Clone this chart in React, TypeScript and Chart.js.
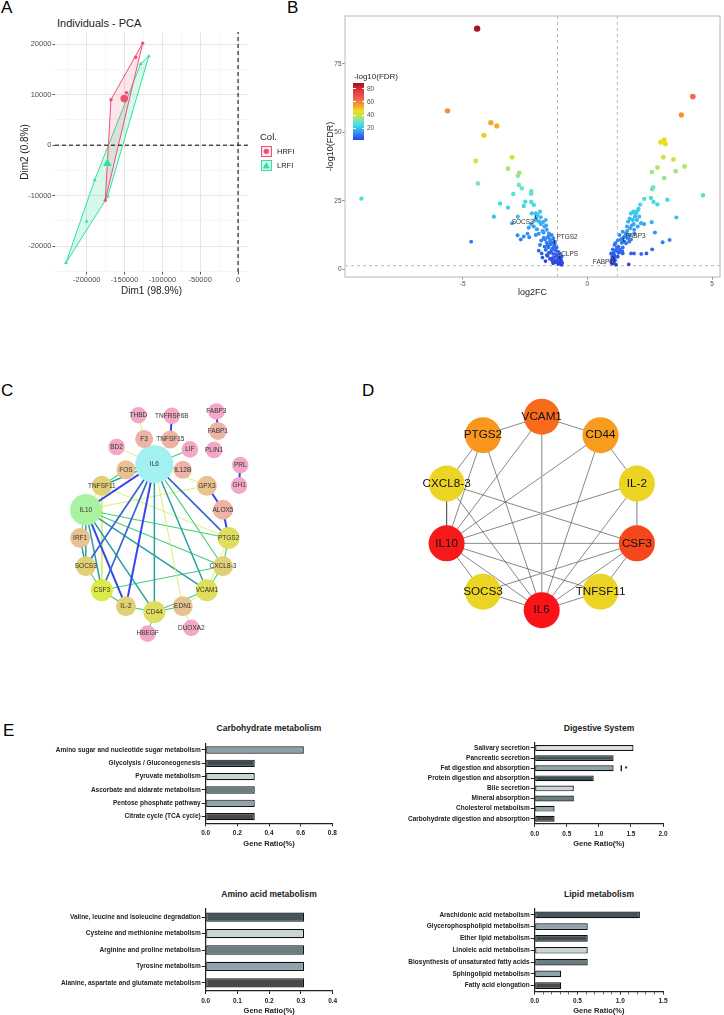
import React, { useEffect, useRef } from "react";
import { Chart, registerables } from "chart.js";
Chart.register(...registerables);

const FONT = "'Liberation Sans', Arial, Helvetica, sans-serif";
Chart.defaults.font.family = FONT;

// ---------------- Panel A : PCA ----------------
const HRFI_DIM1 = [-126000, -135300, -168000, -147500, -175500];
const HRFI_DIM2 = [20200, 17400, 9000, 10400, -10900];
const LRFI_DIM1 = [-118000, -128700, -189600, -200200, -227500, -172400];
const LRFI_DIM2 = [17600, 16100, -6900, -15100, -23300, -10200];
const PCA_DIM1_RANGE = [-242000, 13200];
const PCA_DIM2_RANGE = [-25100, 22400];
const PCA_DIM1_TICKS = [-200000, -150000, -100000, -50000, 0];
const PCA_DIM2_TICKS = [-20000, -10000, 0, 10000, 20000];
const PCA_GROUPS = ["HRFI", "LRFI"];

// ---------------- Panel B : volcano ----------------
const VOLCANO_LOG2FC = [
  -4.42, -5.61, -3.87, -3.63, -4.15, -4.48, -4.39, -9.06, -3.02, -3.18, -2.73, -2.79, -2.75, -2.63, -2.25, -2.25,
  -2.97, -3.5, -3.18, -2.49, -2.55, -2.25, -2.15, -3.75, -2.79, -3.02, -4.66, -2.8, -2.67, -2.33,
  -2.23, -2.07, -1.87, -2.06, -1.67, -1.94, -2.15, -1.86, -1.72, -2.02, -1.63, -1.54, -1.76, -1.43, -1.59, -2.07,
  -1.7, -1.5, -1.37, -1.3, -1.63, -1.46, -1.33, -1.56, -1.23, -1.41, -1.67, -1.27, -1.17, -1.5, -1.37, -1.1,
  -1.59, -1.23, -1.03, -1.43, -1.19, -1.3, -1.1, -1.01, -1.37, -1.17, -1.03, -1.63, -1.72, -1.9, -1.83,
  -1.8, -1.95, -1.55, -1.48, -1.4, -1.52, -1.6, -1.38, -1.3, -1.45, -1.55, -1.25, -1.34, -1.5, -1.15, -1.22,
  -1.12, -1.28, -1.4, -1.75, -1.85, -2.25, -2.35, -2.1, -1.9, -2.0, -1.78, -1.65, -2.4, -2.55, -1.95, -1.8,
  -1.68, -1.05, -2.05, -1.31, -1.09,
  4.23, 3.77, 2.94, 3.08, 3.13, 3.05, 3.45, 3.9, 2.81, 2.59, 3.54, 3.08, 2.64, 2.6, 4.64, 2.55, 2.28, 2.65,
  2.81, 3.21, 2.12, 2.01, 3.57, 2.58, 2.28, 2.17, 2.71, 3.3, 3.02, 2.6, 2.37, 2.16, 1.87, 1.66,
  1.75, 1.91, 1.82, 1.64, 1.99, 1.86, 1.59, 1.72, 1.88, 1.42, 1.55, 1.68, 1.29, 1.46, 1.62, 1.75, 1.22, 1.38,
  1.55, 1.09, 1.25, 1.42, 1.02, 1.15, 1.33, 0.95, 1.09, 1.22, 1.02, 1.11, 0.95, 1.06, 1.15, 2.02, 2.15, 2.08,
  1.95, 1.88, 1.68, 1.75, 1.42,
  1.0, 0.98, 1.05, 1.18, 1.3, 1.12, 1.35, 1.5, 1.48, 1.6, 1.78, 1.7, 1.85, 2.05, 1.25, 0.99, 1.08, 1.4,
  1.47, 1.09,
];
const VOLCANO_NEGLOG10FDR = [
  87.8, 57.8, 53.5, 52.3, 48.9, 39.5, 31.3, 25.8, 40.9, 36.7, 35.2, 34.1, 30.8, 29.6, 28.5, 27.6,
  27.5, 24.0, 22.5, 24.7, 23.1, 24.6, 23.5, 19.2, 19.2, 16.8, 10.1, 12.4, 10.9, 11.7,
  20.4, 20.4, 19.0, 18.6, 18.0, 17.4, 15.6, 16.5, 15.6, 14.6, 14.4, 13.1, 13.4, 12.5, 11.7, 12.5,
  10.9, 10.7, 11.3, 10.1, 9.7, 9.2, 8.5, 8.0, 8.0, 7.3, 7.1, 6.8, 6.4, 6.1, 5.6, 5.8,
  4.9, 4.9, 4.6, 4.0, 3.6, 3.2, 2.8, 2.4, 2.2, 1.9, 1.6, 5.2, 8.3, 8.9, 5.8,
  14.0, 13.0, 12.0, 10.0, 9.8, 9.0, 8.6, 7.8, 7.4, 6.6, 6.0, 5.4, 4.4, 3.8, 4.2, 3.0,
  2.0, 2.6, 3.0, 11.5, 10.5, 16.5, 15.2, 17.8, 21.0, 19.8, 17.2, 16.0, 13.0, 12.0, 6.8, 4.3,
  3.0, 3.3, 18.2, 9.2, 3.6,
  63.0, 56.3, 46.4, 47.2, 45.7, 40.9, 40.1, 37.5, 37.1, 35.5, 35.8, 33.3, 29.9, 29.2, 27.0, 26.0, 25.7, 24.6,
  23.7, 25.4, 23.6, 21.4, 18.9, 17.2, 16.5, 16.8, 13.4, 10.7, 9.9, 7.3, 5.8, 5.6, 5.8, 1.8,
  20.4, 19.2, 18.0, 17.4, 18.0, 16.5, 15.6, 15.0, 14.4, 13.7, 13.1, 12.5, 12.5, 11.7, 11.3, 10.9, 10.5, 9.7,
  9.5, 8.9, 8.3, 8.0, 7.3, 6.8, 6.4, 5.8, 5.2, 4.6, 4.0, 3.4, 2.8, 2.2, 1.6, 15.6, 16.8, 19.2,
  20.4, 13.1, 10.1, 5.8, 5.8,
  4.8, 3.6, 6.0, 7.8, 7.2, 9.5, 11.0, 12.0, 10.2, 14.0, 16.0, 18.5, 21.0, 22.0, 6.0, 2.0, 4.4, 6.6,
  10.1, 3.0,
];
const VOLCANO_X_RANGE = [-9.72, 5.32];
const VOLCANO_Y_RANGE = [-2.8, 92.4];
const FC_CUTOFF = 1.2;
const FDR_CUTOFF = 1.3;
const VOLCANO_LABELS = ["SOCS3", "PTGS2", "CLPS", "FABP3", "FABP1"];
const VOLCANO_LABEL_X = [-2.05, -1.31, -1.09, 1.47, 1.09];
const VOLCANO_LABEL_Y = [18.2, 9.2, 3.6, 10.1, 3.0];
const COLORBAR_VALUES = [1.5, 8, 16, 24, 32, 40, 47, 52, 58, 65, 75, 89];
const COLORBAR_COLORS = ["#2B3FE0", "#2F6EF0", "#38A8F2", "#40DCE6", "#80E4B0", "#CFE33C", "#EEDC22", "#F2B02A", "#F28A3C", "#F0604E", "#E0404A", "#A50F15"];
const COLORBAR_TICKS = [20, 40, 60, 80];

// ---------------- Panel C : PPI network ----------------
const RING_GENES = ["IL6", "IL12B", "GPX3", "ALOX5", "PTGS2", "CXCL8-3", "VCAM1", "EDN1", "CD44", "IL-2", "CSF3", "SOCS3", "IRF1", "IL10", "TNFSF11", "FOS"];
const OUTER_GENES = ["F3", "TNFSF15", "THBD", "TNFRSF6B", "BD2", "LIF", "FABP3", "FABP1", "PLIN1", "PRL", "GH1", "HBEGF", "DUOXA2"];
const OUTER_DX = [-11.7, 18.3, -18.3, 20, -43.3, 40.7, 71, 72.7, 68.3, 98.3, 97, -7.7, 42.3];
const OUTER_DY = [-114, -113.3, -141.3, -140.7, -104.7, -102, -145.7, -123.3, -101.3, -84, -60.3, 110, 103.3];
const NODE_GROUP: Record<string, string> = {
  THBD: "pink", TNFRSF6B: "pink", FABP3: "pink", BD2: "pink", LIF: "pink", PLIN1: "pink", PRL: "pink", GH1: "pink", HBEGF: "pink", DUOXA2: "pink",
  F3: "salmon", TNFSF15: "salmon", FABP1: "salmon", IL12B: "salmon", ALOX5: "salmon",
  FOS: "tan", GPX3: "tan", IRF1: "tan", EDN1: "tan",
  TNFSF11: "khaki", SOCS3: "khaki", "IL-2": "khaki", "CXCL8-3": "khaki",
  PTGS2: "yellow", CD44: "yellow", VCAM1: "yellow",
  CSF3: "lime", IL10: "green", IL6: "cyan",
};
const GROUP_COLOR: Record<string, string> = {
  pink: "#F3A8C8", salmon: "#EDB3A4", tan: "#E8C290", khaki: "#E2D074", yellow: "#E0DE5E", lime: "#DCEB48", green: "#A9F2A2", cyan: "#A3F0F2",
};
const NODE_SIZE: Record<string, number> = {
  IL6: 19, IL10: 15.7, PTGS2: 11, CSF3: 11, CD44: 11, VCAM1: 11, IL12B: 9, FOS: 9.5, F3: 9, TNFSF15: 9, FABP1: 9,
};
const PPI_EDGES = [
  "THBD|F3|1", "TNFRSF6B|TNFSF15|4", "FABP3|FABP1|4", "FABP1|PLIN1|1", "PRL|GH1|4", "GPX3|ALOX5|4", "ALOX5|PTGS2|4",
  "F3|IL6|2", "TNFSF15|IL6|1", "BD2|IL6|1", "LIF|IL6|2", "IL12B|IL6|2",
  "IL6|FOS|3", "IL6|TNFSF11|3", "IL6|IL10|4", "IL6|SOCS3|5", "IL6|CSF3|5", "IL6|IL-2|4", "IL6|CD44|3", "IL6|EDN1|1",
  "IL6|VCAM1|3", "IL6|CXCL8-3|2", "IL6|PTGS2|5", "IL6|GPX3|1",
  "IL10|FOS|1", "IL10|TNFSF11|1", "IL10|IRF1|2", "IL10|SOCS3|3", "IL10|CSF3|3", "IL10|IL-2|4", "IL10|CD44|3",
  "IL10|VCAM1|3", "IL10|CXCL8-3|2", "IL10|PTGS2|2", "IL10|GPX3|1",
  "TNFSF11|FOS|2", "TNFSF11|CSF3|1", "TNFSF11|PTGS2|1",
  "IRF1|SOCS3|3", "SOCS3|CSF3|2", "CSF3|IL-2|2", "CSF3|CXCL8-3|2", "IL-2|CD44|2", "CD44|EDN1|2", "CD44|VCAM1|2",
  "CD44|HBEGF|2", "EDN1|VCAM1|1", "EDN1|DUOXA2|1", "VCAM1|CXCL8-3|2", "CXCL8-3|PTGS2|2", "VCAM1|PTGS2|1",
];
const EDGE_COLOR = ["", "#D4EE6A", "#45CC7A", "#2A9FA0", "#3446EE", "#3866CC"];
const EDGE_WIDTH = [0, 0.9, 1.1, 1.5, 2.0, 1.7];

// ---------------- Panel D : hub genes ----------------
const HUB_GENES = ["VCAM1", "CD44", "IL-2", "CSF3", "TNFSF11", "IL6", "SOCS3", "IL10", "CXCL8-3", "PTGS2"];
const HUB_COLORS = ["#F86A1C", "#F89C1E", "#ECD424", "#F5461C", "#ECD424", "#FA1419", "#ECD424", "#F61A1A", "#ECD424", "#F8961E"];
const HUB_EDGES = [
  "VCAM1|PTGS2", "VCAM1|CD44", "VCAM1|IL6|L", "VCAM1|IL10", "PTGS2|CXCL8-3", "PTGS2|IL10", "PTGS2|IL6",
  "CD44|IL-2", "CD44|IL10", "CD44|IL6", "CXCL8-3|IL10", "CXCL8-3|CSF3", "CXCL8-3|IL6", "IL-2|CSF3|L",
  "IL-2|IL10", "IL-2|IL6", "IL10|CSF3", "IL10|SOCS3", "IL10|IL6", "IL10|TNFSF11", "CSF3|TNFSF11", "CSF3|IL6",
  "CSF3|SOCS3", "SOCS3|IL6", "TNFSF11|IL6",
];

// ---------------- Panel E : KEGG bars ----------------
const CARB_TITLE = "Carbohydrate metabolism";
const CARB_PATHWAYS = ["Amino sugar and nucleotide sugar metabolism", "Glycolysis / Gluconeogenesis", "Pyruvate metabolism", "Ascorbate and aldarate metabolism", "Pentose phosphate pathway", "Citrate cycle (TCA cycle)"];
const CARB_RATIO = [0.62, 0.31, 0.31, 0.31, 0.31, 0.31];
const CARB_COLORS = ["#8B9FA8", "#3E4D54", "#CAD5D6", "#6A7D81", "#8EA3AB", "#474A4A"];

const DIGEST_TITLE = "Digestive System";
const DIGEST_PATHWAYS = ["Salivary secretion", "Pancreatic secretion", "Fat digestion and absorption", "Protein digestion and absorption", "Bile secretion", "Mineral absorption", "Cholesterol metabolism", "Carbohydrate digestion and absorption"];
const DIGEST_RATIO = [1.54, 1.23, 1.23, 0.92, 0.61, 0.61, 0.31, 0.31];
const DIGEST_COLORS = ["#D9E0E0", "#46545A", "#8EA3AB", "#3E4B51", "#CAD5D6", "#6A7D81", "#8EA3AB", "#474A4A"];
const DIGEST_MARK_PATHWAY = "Fat digestion and absorption";
const DIGEST_MARK_VALUE = 1.35;

const AMINO_TITLE = "Amino acid metabolism";
const AMINO_PATHWAYS = ["Valine, leucine and isoleucine degradation", "Cysteine and methionine metabolism", "Arginine and proline metabolism", "Tyrosine metabolism", "Alanine, aspartate and glutamate metabolism"];
const AMINO_RATIO = [0.31, 0.31, 0.31, 0.31, 0.31];
const AMINO_COLORS = ["#46555B", "#CAD5D6", "#6A7D81", "#8EA3AB", "#474A4A"];

const LIPID_TITLE = "Lipid metabolism";
const LIPID_PATHWAYS = ["Arachidonic acid metabolism", "Glycerophospholipid metabolism", "Ether lipid metabolism", "Linoleic acid metabolism", "Biosynthesis of unsaturated fatty acids", "Sphingolipid metabolism", "Fatty acid elongation"];
const LIPID_RATIO = [1.23, 0.62, 0.62, 0.62, 0.62, 0.31, 0.31];
const LIPID_COLORS = ["#46555B", "#8EA3AB", "#3E4D54", "#CAD5D6", "#6A7D81", "#8EA3AB", "#474A4A"];

// ================= helpers =================
type Pt = { x: number; y: number };

function convexHull(pts: Pt[]): Pt[] {
  const p = [...pts].sort((a, b) => a.x - b.x || a.y - b.y);
  const cross = (o: Pt, a: Pt, b: Pt) => (a.x - o.x) * (b.y - o.y) - (a.y - o.y) * (b.x - o.x);
  const lower: Pt[] = [];
  for (const q of p) {
    while (lower.length >= 2 && cross(lower[lower.length - 2], lower[lower.length - 1], q) <= 0) lower.pop();
    lower.push(q);
  }
  const upper: Pt[] = [];
  for (const q of [...p].reverse()) {
    while (upper.length >= 2 && cross(upper[upper.length - 2], upper[upper.length - 1], q) <= 0) upper.pop();
    upper.push(q);
  }
  upper.pop();
  lower.pop();
  const h = lower.concat(upper);
  return h.concat([h[0]]);
}

const mean = (a: number[]) => a.reduce((s, v) => s + v, 0) / a.length;

function hexToRgb(h: string) {
  const n = parseInt(h.slice(1), 16);
  return [(n >> 16) & 255, (n >> 8) & 255, n & 255];
}
function fdrColor(v: number): string {
  const V = COLORBAR_VALUES, C = COLORBAR_COLORS;
  if (v <= V[0]) return C[0];
  for (let i = 1; i < V.length; i++) {
    if (v <= V[i]) {
      const t = (v - V[i - 1]) / (V[i] - V[i - 1]);
      const a = hexToRgb(C[i - 1]), b = hexToRgb(C[i]);
      const c = a.map((x, k) => Math.round(x + (b[k] - x) * t));
      return `rgb(${c[0]},${c[1]},${c[2]})`;
    }
  }
  return C[C.length - 1];
}

function ChartBox({ left, top, width, height, make }: { left: number; top: number; width: number; height: number; make: () => any }) {
  const ref = useRef<HTMLCanvasElement>(null);
  useEffect(() => {
    const chart = new Chart(ref.current as HTMLCanvasElement, make());
    return () => chart.destroy();
  }, []);
  return <canvas ref={ref} width={width} height={height} style={{ position: "absolute", left, top, width, height }} />;
}

const noInteract = {
  responsive: false,
  animation: false as const,
  events: [] as any[],
};

// ================= Panel A config =================
function pcaConfig() {
  const hr = HRFI_DIM1.map((x, i) => ({ x, y: HRFI_DIM2[i] }));
  const lr = LRFI_DIM1.map((x, i) => ({ x, y: LRFI_DIM2[i] }));
  const pink = "#F04E72";
  const green = "#33DFA0";
  const tickFont = { size: 7.5 };
  const majorAxis = (range: number[], tickVals: number[], title: string, fit: (s: any) => void) => ({
    type: "linear", min: range[0], max: range[1],
    afterBuildTicks: (s: any) => { s.ticks = tickVals.map((v) => ({ value: v })); },
    ticks: { autoSkip: false, maxRotation: 0, font: tickFont, color: "#4D4D4D", padding: 1, callback: (v: any) => String(v) },
    grid: { color: "#E3E3E3", lineWidth: 0.9, tickLength: 2.5, tickColor: "#444" },
    border: { display: false },
    title: { display: true, text: title, font: { size: 10 }, color: "#222", padding: 0 },
    afterFit: fit,
  });
  const minorAxis = (range: number[], tickVals: number[], pos: string, fit: (s: any) => void) => ({
    type: "linear", position: pos, min: range[0], max: range[1],
    afterBuildTicks: (s: any) => {
      const st = tickVals[1] - tickVals[0];
      s.ticks = tickVals.slice(0, -1).map((v) => ({ value: v + st / 2 })).concat([{ value: tickVals[0] - st / 2 }]);
    },
    ticks: { display: false },
    grid: { color: "#F0F0F0", lineWidth: 0.6, drawTicks: false },
    border: { display: false },
    afterFit: fit,
  });
  return {
    type: "scatter",
    data: {
      datasets: [
        { data: [{ x: 0, y: PCA_DIM2_RANGE[0] }, { x: 0, y: PCA_DIM2_RANGE[1] }], showLine: true, borderColor: "#000", borderWidth: 1, borderDash: [4, 3], pointRadius: 0 },
        { data: [{ x: PCA_DIM1_RANGE[0], y: 0 }, { x: PCA_DIM1_RANGE[1], y: 0 }], showLine: true, borderColor: "#000", borderWidth: 1, borderDash: [4, 3], pointRadius: 0 },
        { data: [{ x: mean(HRFI_DIM1), y: mean(HRFI_DIM2) }], pointStyle: "circle", pointRadius: 3.8, backgroundColor: pink, borderWidth: 0 },
        { data: [{ x: mean(LRFI_DIM1), y: mean(LRFI_DIM2) }], pointStyle: "triangle", pointRadius: 5, backgroundColor: green, borderWidth: 0 },
        { data: hr, pointStyle: "circle", pointRadius: 1.7, backgroundColor: pink, borderWidth: 0 },
        { data: lr, pointStyle: "triangle", pointRadius: 2.2, backgroundColor: green, borderWidth: 0 },
        { data: convexHull(hr), showLine: true, fill: "shape", backgroundColor: "rgba(240,78,114,0.15)", borderColor: pink, borderWidth: 1, pointRadius: 0, tension: 0 },
        { data: convexHull(lr), showLine: true, fill: "shape", backgroundColor: "rgba(51,223,160,0.2)", borderColor: green, borderWidth: 1, pointRadius: 0, tension: 0 },
      ],
    },
    options: {
      ...noInteract,
      layout: { padding: { left: 19, top: 32, right: 52, bottom: 3 } },
      plugins: { legend: { display: false }, tooltip: { enabled: false } },
      scales: {
        xMinor: minorAxis(PCA_DIM1_RANGE, PCA_DIM1_TICKS, "bottom", (s: any) => { s.height = 0; }),
        yMinor: minorAxis(PCA_DIM2_RANGE, PCA_DIM2_TICKS, "left", (s: any) => { s.width = 0; }),
        x: majorAxis(PCA_DIM1_RANGE, PCA_DIM1_TICKS, "Dim1 (98.9%)", (s: any) => { s.height = 25; }),
        y: majorAxis(PCA_DIM2_RANGE, PCA_DIM2_TICKS, "Dim2 (0.8%)", (s: any) => { s.width = 36; }),
      },
    },
  };
}

// ================= Panel B config =================
function volcanoConfig() {
  const pts = VOLCANO_LOG2FC.map((x, i) => ({ x, y: VOLCANO_NEGLOG10FDR[i] }));
  const order = pts.map((_, i) => i).sort((a, b) => pts[a].y - pts[b].y);
  const sorted = order.map((i) => pts[i]);
  const dash = { showLine: true, borderColor: "#A8A8A8", borderWidth: 0.8, borderDash: [3, 3], pointRadius: 0 };
  const labelStyle = [
    { sx: -1, sy: -4.3, tx: -2.5, ty: 2.7, align: "right" },
    { sx: -1, sy: -4.7, tx: 1.7, ty: -6.7, align: "left" },
    { sx: -1.3, sy: -5.3, tx: 1, ty: -5.3, align: "left" },
    { sx: -1.3, sy: -4.4, tx: 1.4, ty: -5.7, align: "left" },
    { sx: -1.7, sy: -5, tx: -1.5, ty: 1.3, align: "right" },
  ];
  const labels = {
    id: "volcanoLabels",
    afterDatasetsDraw(chart: any) {
      const { ctx, scales } = chart;
      ctx.save();
      VOLCANO_LABELS.forEach((name, i) => {
        const px = scales.x.getPixelForValue(VOLCANO_LABEL_X[i]);
        const py = scales.y.getPixelForValue(VOLCANO_LABEL_Y[i]);
        const o = labelStyle[i];
        ctx.strokeStyle = "#111";
        ctx.lineWidth = 0.8;
        ctx.beginPath();
        ctx.moveTo(px, py);
        ctx.lineTo(px + o.sx, py + o.sy);
        ctx.stroke();
        ctx.fillStyle = "#333";
        ctx.font = `6.5px ${FONT}`;
        ctx.textAlign = o.align;
        ctx.textBaseline = "middle";
        ctx.fillText(name, px + o.tx, py + o.ty);
      });
      ctx.restore();
    },
    afterDraw(chart: any) {
      const { ctx, chartArea: a } = chart;
      ctx.save();
      ctx.strokeStyle = "#C4C4C4";
      ctx.lineWidth = 1.2;
      ctx.strokeRect(a.left, a.top, a.right - a.left, a.bottom - a.top);
      ctx.restore();
    },
  };
  const tickFont = { size: 6.5 };
  return {
    type: "scatter",
    data: {
      datasets: [
        { data: sorted, pointRadius: sorted.map((p) => 1.8 + p.y * 0.016), backgroundColor: sorted.map((p) => fdrColor(p.y)), borderWidth: 0 },
        { data: [{ x: -FC_CUTOFF, y: VOLCANO_Y_RANGE[0] }, { x: -FC_CUTOFF, y: VOLCANO_Y_RANGE[1] }], ...dash },
        { data: [{ x: FC_CUTOFF, y: VOLCANO_Y_RANGE[0] }, { x: FC_CUTOFF, y: VOLCANO_Y_RANGE[1] }], ...dash },
        { data: [{ x: VOLCANO_X_RANGE[0], y: FDR_CUTOFF }, { x: VOLCANO_X_RANGE[1], y: FDR_CUTOFF }], ...dash },
      ],
    },
    options: {
      ...noInteract,
      layout: { padding: { left: 25, top: 16, right: 1, bottom: 12 } },
      plugins: { legend: { display: false }, tooltip: { enabled: false } },
      scales: {
        x: {
          type: "linear", min: VOLCANO_X_RANGE[0], max: VOLCANO_X_RANGE[1],
          ticks: { stepSize: 5, includeBounds: false, font: tickFont, color: "#4D4D4D", padding: 1, maxRotation: 0 },
          grid: { drawOnChartArea: false, tickLength: 2.5, tickColor: "#888" },
          border: { display: false },
          title: { display: true, text: "log2FC", font: { size: 9 }, color: "#222", padding: 0 },
          afterFit: (s: any) => { s.height = 21; },
        },
        y: {
          type: "linear", min: VOLCANO_Y_RANGE[0], max: VOLCANO_Y_RANGE[1],
          ticks: { stepSize: 25, includeBounds: false, font: tickFont, color: "#4D4D4D", padding: 1 },
          grid: { drawOnChartArea: false, tickLength: 2.5, tickColor: "#888" },
          border: { display: false },
          title: { display: true, text: "-log10(FDR)", font: { size: 9 }, color: "#222", padding: 0 },
          afterFit: (s: any) => { s.width = 20; },
        },
      },
    },
    plugins: [labels],
  };
}

// ================= Network configs =================
function networkConfig(names: string[], xs: number[], ys: number[], colors: string[], radii: number[],
  edges: { a: number; b: number; color: string; width: number }[], xRange: number[], yRange: number[], fontSize: number, textColor: string) {
  const labelPlugin = {
    id: "nodeLabels",
    afterDatasetsDraw(chart: any) {
      const { ctx, scales } = chart;
      ctx.save();
      ctx.font = `${fontSize}px ${FONT}`;
      ctx.fillStyle = textColor;
      ctx.textAlign = "center";
      ctx.textBaseline = "middle";
      names.forEach((n, i) => ctx.fillText(n, scales.x.getPixelForValue(xs[i]), scales.y.getPixelForValue(ys[i])));
      ctx.restore();
    },
  };
  return {
    type: "scatter",
    data: {
      datasets: [
        { data: names.map((_, i) => ({ x: xs[i], y: ys[i] })), pointRadius: radii, backgroundColor: colors, borderWidth: 0 },
        ...edges.map((e) => ({
          data: [{ x: xs[e.a], y: ys[e.a] }, { x: xs[e.b], y: ys[e.b] }],
          showLine: true, borderColor: e.color, borderWidth: e.width, pointRadius: 0,
        })),
      ],
    },
    options: {
      ...noInteract,
      layout: { padding: 0 },
      plugins: { legend: { display: false }, tooltip: { enabled: false } },
      scales: {
        x: { type: "linear", display: false, min: xRange[0], max: xRange[1] },
        y: { type: "linear", display: false, min: yRange[0], max: yRange[1], reverse: true },
      },
    },
    plugins: [labelPlugin],
  };
}

function ppiConfig() {
  const ringR = 85;
  const names = [...RING_GENES, ...OUTER_GENES];
  const xs = [...RING_GENES.map((_, k) => ringR * Math.cos(((-90 + 22.5 * k) * Math.PI) / 180)), ...OUTER_DX];
  const ys = [...RING_GENES.map((_, k) => ringR * Math.sin(((-90 + 22.5 * k) * Math.PI) / 180)), ...OUTER_DY];
  const colors = names.map((n) => GROUP_COLOR[NODE_GROUP[n]]);
  const radii = names.map((n) => NODE_SIZE[n] ?? (RING_GENES.includes(n) ? 10 : 8.3));
  const edges = PPI_EDGES.map((s) => {
    const [a, b, w] = s.split("|");
    const k = Number(w);
    return { a: names.indexOf(a), b: names.indexOf(b), color: EDGE_COLOR[k], width: EDGE_WIDTH[k] };
  });
  return networkConfig(names, xs, ys, colors, radii, edges, [-155, 145], [-160, 130], 6.5, "#333");
}

function hubConfig() {
  const r = 111;
  const xs = HUB_GENES.map((_, k) => r * Math.cos(((-90 + 36 * k) * Math.PI) / 180));
  const ys = HUB_GENES.map((_, k) => r * Math.sin(((-90 + 36 * k) * Math.PI) / 180));
  const edges = HUB_EDGES.map((s) => {
    const [a, b, l] = s.split("|");
    return { a: HUB_GENES.indexOf(a), b: HUB_GENES.indexOf(b), color: l ? "#B0B0B0" : "#555", width: l ? 1.6 : 0.7 };
  });
  return networkConfig(HUB_GENES, xs, ys, HUB_COLORS, HUB_GENES.map(() => 18), edges, [-181.7, 182.3], [-132.5, 147.5], 11.7, "#111");
}

// ================= Bar configs =================
type BarGeom = { yWidth: number; xHeight: number; padTop: number; padBottom: number; padRight: number; barPct: number; max: number; step: number; minor?: number };

function barConfig(labels: string[], values: number[], colors: string[], g: BarGeom, extra?: any) {
  const stepUsed = g.minor ?? g.step;
  const isMajor = (v: number) => Math.abs(v / g.step - Math.round(v / g.step)) < 1e-6;
  const font = { size: 6.5, weight: "bold" as const };
  return {
    type: "bar",
    data: {
      labels,
      datasets: [{ data: values, backgroundColor: colors, borderColor: "#111", borderWidth: 1.2, borderSkipped: false, barPercentage: g.barPct, categoryPercentage: 1 }],
    },
    options: {
      ...noInteract,
      indexAxis: "y",
      layout: { padding: { left: 0, top: g.padTop, right: g.padRight, bottom: g.padBottom } },
      plugins: { legend: { display: false }, tooltip: { enabled: false } },
      scales: {
        x: {
          type: "linear", min: 0, max: g.max,
          ticks: { stepSize: stepUsed, autoSkip: false, maxTicksLimit: 100, maxRotation: 0, font, color: "#222", padding: 3,
            callback: (v: number) => (isMajor(v) ? v.toFixed(1) : "") },
          grid: { drawOnChartArea: false, tickLength: 3, tickColor: "#222", tickWidth: (c: any) => (c.tick && isMajor(c.tick.value) ? 1 : 0.7) },
          border: { color: "#222", width: 1.2 },
          title: { display: true, text: "Gene Ratio(%)", font: { size: 7.5, weight: "bold" }, color: "#222", padding: 0 },
          afterFit: (s: any) => { s.height = g.xHeight; },
        },
        y: {
          type: "category",
          ticks: { autoSkip: false, font, color: "#222", padding: 1 },
          grid: { drawOnChartArea: false, offset: false, tickLength: 4, tickColor: "#222" },
          border: { color: "#222", width: 1.2 },
          afterFit: (s: any) => { s.width = g.yWidth; },
        },
      },
    },
    plugins: extra ? [extra] : [],
  };
}

const digestMark = {
  id: "digestMark",
  afterDatasetsDraw(chart: any) {
    const { ctx, scales } = chart;
    const px = scales.x.getPixelForValue(DIGEST_MARK_VALUE);
    const py = scales.y.getPixelForValue(DIGEST_PATHWAYS.indexOf(DIGEST_MARK_PATHWAY));
    ctx.save();
    ctx.strokeStyle = "#111";
    ctx.lineWidth = 1.3;
    ctx.beginPath();
    ctx.moveTo(px, py - 3);
    ctx.lineTo(px, py + 3);
    ctx.stroke();
    ctx.fillStyle = "#111";
    ctx.font = `bold 7px ${FONT}`;
    ctx.textAlign = "left";
    ctx.textBaseline = "middle";
    ctx.fillText("*", px + 3.5, py + 1);
    ctx.restore();
  },
};

// ================= App =================
const letter = (t: string, left: number, top: number) => (
  <div style={{ position: "absolute", left, top, fontSize: 17, lineHeight: "17px", fontFamily: FONT, color: "#000" }}>{t}</div>
);

function colorbarGradient() {
  const lo = COLORBAR_VALUES[0], hi = COLORBAR_VALUES[COLORBAR_VALUES.length - 1];
  const stops = COLORBAR_VALUES.map((v, i) => `${COLORBAR_COLORS[i]} ${(((hi - v) / (hi - lo)) * 100).toFixed(1)}%`).reverse();
  return `linear-gradient(to bottom, ${stops.join(", ")})`;
}

export default function App() {
  const barTop = 83, barH = 57;
  const lo = COLORBAR_VALUES[0], hi = COLORBAR_VALUES[COLORBAR_VALUES.length - 1];
  const titleStyle = (cx: number, cy: number): React.CSSProperties => ({
    position: "absolute", left: cx - 100, top: cy - 6, width: 200, textAlign: "center", fontSize: 8.5, lineHeight: "12px", fontWeight: "bold", fontFamily: FONT, color: "#222",
  });
  return (
    <div style={{ position: "absolute", left: 0, top: 0, width: 724, height: 1015, background: "#fff", overflow: "hidden", fontFamily: FONT }}>
      {letter("A", 1, -1)}
      {letter("B", 287, -1)}
      {letter("C", 1, 382)}
      {letter("D", 362, 382)}
      {letter("E", 3, 722)}

      {/* Panel A */}
      <div style={{ position: "absolute", left: 57, top: 16, fontSize: 11, lineHeight: "14px", color: "#222" }}>Individuals - PCA</div>
      <ChartBox left={0} top={0} width={300} height={300} make={pcaConfig} />
      <div style={{ position: "absolute", left: 260, top: 131, fontSize: 9.5, lineHeight: "12px", color: "#222" }}>Col.</div>
      {PCA_GROUPS.map((g, i) => (
        <React.Fragment key={g}>
          <div style={{ position: "absolute", left: 261, top: 146 + i * 14, width: 11, height: 11, boxSizing: "border-box",
            border: `1.2px solid ${i === 0 ? "#F04E72" : "#33DFA0"}`, background: i === 0 ? "rgba(240,78,114,0.15)" : "rgba(51,223,160,0.2)" }}>
            <svg width={9} height={9} style={{ position: "absolute", left: 0, top: 0 }}>
              {i === 0 ? <circle cx={4.3} cy={4.3} r={2.6} fill="#F04E72" /> : <polygon points="4.3,1 8,7.5 0.6,7.5" fill="#33DFA0" />}
            </svg>
          </div>
          <div style={{ position: "absolute", left: 277, top: 146 + i * 14, fontSize: 7.5, lineHeight: "11px", color: "#222" }}>{g}</div>
        </React.Fragment>
      ))}

      {/* Panel B */}
      <ChartBox left={300} top={0} width={424} height={310} make={volcanoConfig} />
      <div style={{ position: "absolute", left: 354, top: 71, fontSize: 8, lineHeight: "11px", color: "#222" }}>-log10(FDR)</div>
      <div style={{ position: "absolute", left: 353, top: barTop, width: 11, height: barH, background: colorbarGradient() }} />
      {COLORBAR_TICKS.map((t) => {
        const y = barTop + ((hi - t) / (hi - lo)) * barH;
        return (
          <React.Fragment key={t}>
            <div style={{ position: "absolute", left: 353, top: y - 0.4, width: 2.5, height: 0.8, background: "#fff" }} />
            <div style={{ position: "absolute", left: 361.5, top: y - 0.4, width: 2.5, height: 0.8, background: "#fff" }} />
            <div style={{ position: "absolute", left: 367, top: y - 5, fontSize: 6.5, lineHeight: "10px", color: "#4D4D4D" }}>{t}</div>
          </React.Fragment>
        );
      })}

      {/* Panel C and D */}
      <ChartBox left={0} top={380} width={300} height={290} make={ppiConfig} />
      <ChartBox left={360} top={380} width={364} height={280} make={hubConfig} />

      {/* Panel E */}
      <div style={titleStyle(269, 728)}>{CARB_TITLE}</div>
      <ChartBox left={0} top={738} width={362} height={112}
        make={() => barConfig(CARB_PATHWAYS, CARB_RATIO, CARB_COLORS, { yWidth: 205.7, xHeight: 25.5, padTop: 5.3, padBottom: 1.2, padRight: 29.7, barPct: 0.55, max: 0.8, step: 0.2 })} />
      <div style={titleStyle(599, 728)}>{DIGEST_TITLE}</div>
      <ChartBox left={362} top={738} width={362} height={112}
        make={() => barConfig(DIGEST_PATHWAYS, DIGEST_RATIO, DIGEST_COLORS, { yWidth: 172.7, xHeight: 24.95, padTop: 3.55, padBottom: 1.2, padRight: 61, barPct: 0.58, max: 2.0, step: 0.5 }, digestMark)} />
      <div style={titleStyle(269, 894)}>{AMINO_TITLE}</div>
      <ChartBox left={0} top={900} width={362} height={115}
        make={() => barConfig(AMINO_PATHWAYS, AMINO_RATIO, AMINO_COLORS, { yWidth: 205.7, xHeight: 24, padTop: 9, padBottom: 0, padRight: 29.3, barPct: 0.57, max: 0.4, step: 0.1 })} />
      <div style={titleStyle(599, 894)}>{LIPID_TITLE}</div>
      <ChartBox left={362} top={900} width={362} height={115}
        make={() => barConfig(LIPID_PATHWAYS, LIPID_RATIO, LIPID_COLORS, { yWidth: 172.7, xHeight: 23.5, padTop: 9, padBottom: 0, padRight: 61, barPct: 0.57, max: 1.5, step: 0.5, minor: 0.1 })} />
    </div>
  );
}
